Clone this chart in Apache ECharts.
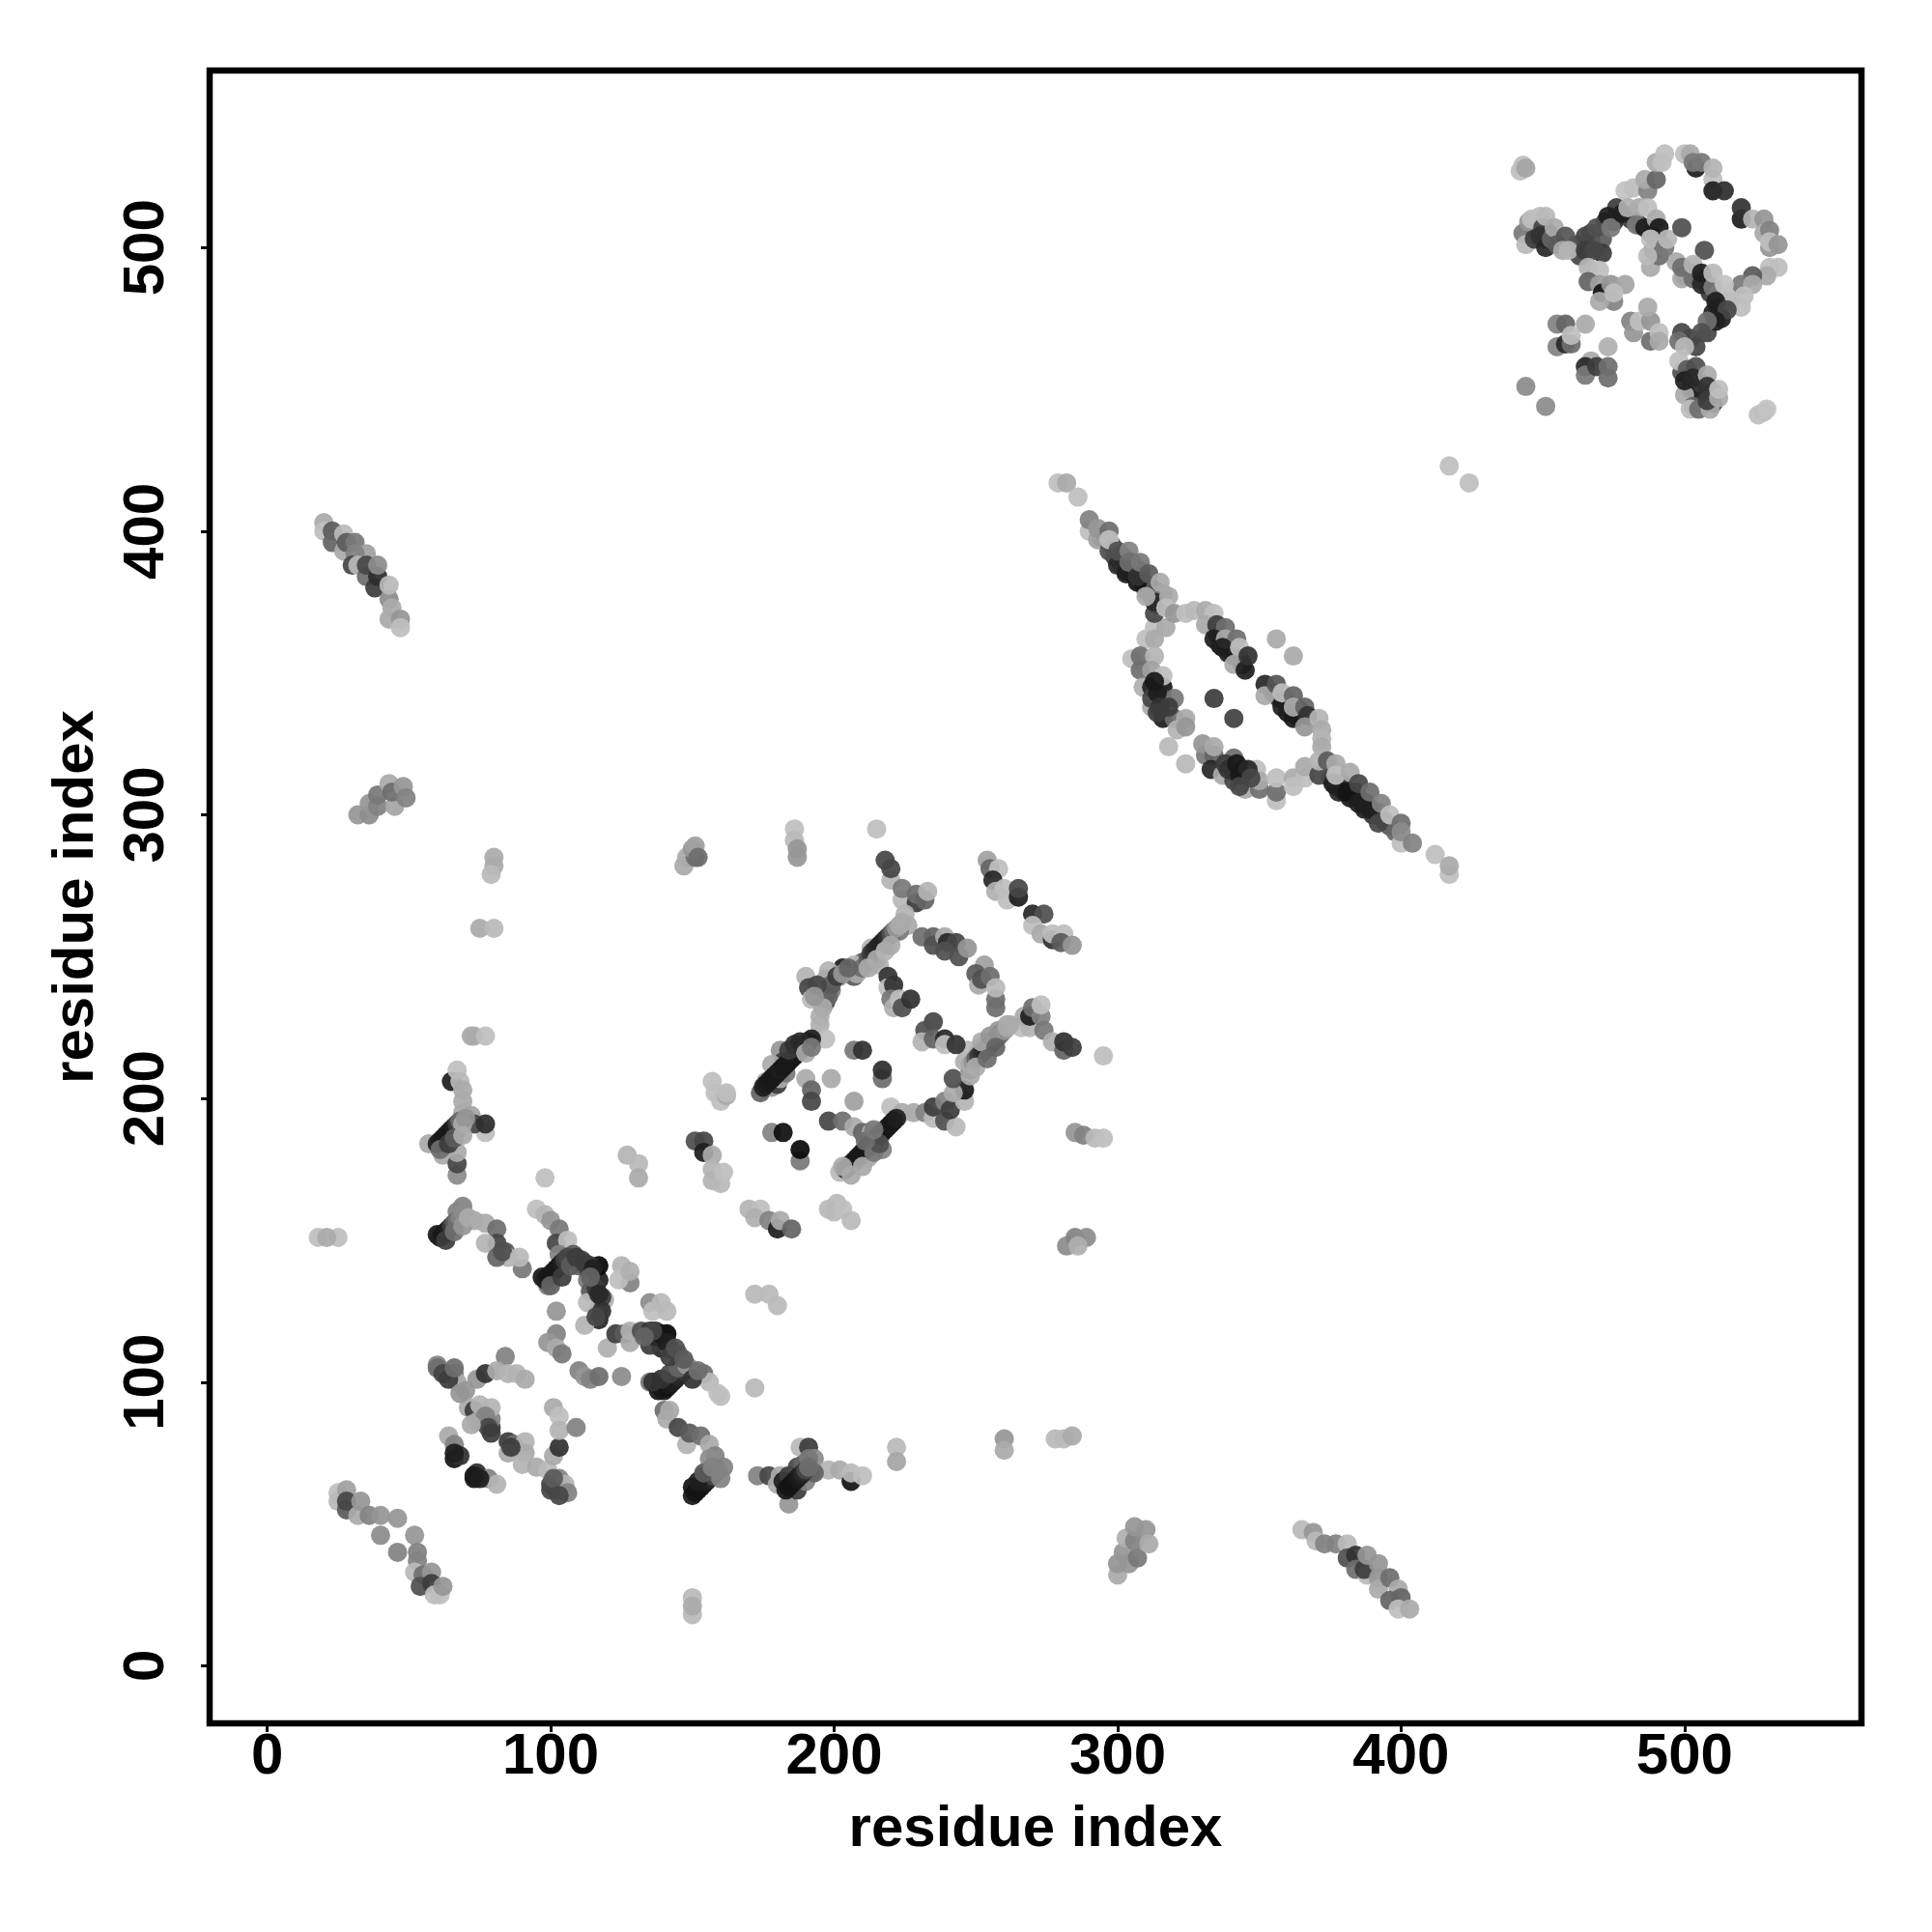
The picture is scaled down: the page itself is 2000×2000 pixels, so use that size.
<!DOCTYPE html>
<html><head><meta charset="utf-8">
<script src="https://cdn.jsdelivr.net/npm/echarts@6/dist/echarts.min.js"></script>
<style>html,body{margin:0;padding:0;background:#fff}#c{width:2000px;height:2000px}</style>
</head><body><div id="c"></div>
<script>
// each point: [residue i, residue j, shade level]
const tickValues = [0,100,200,300,400,500];
const axisTitle = "residue index";

const denseStrands = [
[176,206,170],[178,204,150],[180,205,60],[181,207,170],[183,209,120],[175,204,30],[176,205,30],[177,206,25],[178,207,25],[179,208,25],[180,209,25],[181,210,30],[182,211,25],[183,212,25],[184,213,25],[185,214,25],[186,215,25],[187,216,25],[188,217,25],[189,218,25],[190,219,25],[191,220,25],[192,221,30],[184,217,60],[186,219,50],[188,220,40],[190,216,170],[192,218,120],
[204,175,30],[205,176,30],[206,177,30],[207,178,30],[208,179,25],[209,180,25],[210,181,25],[211,182,25],[212,183,25],[213,184,25],[214,185,25],[215,186,25],[216,187,25],[217,188,25],[218,189,25],[219,190,25],[220,191,25],[221,192,25],[222,193,30],[206,173,170],[210,176,170],[203,176,170],[214,181,120],[216,184,80],[211,185,110],[214,189,120],
[248,212,170],[249,213,150],[250,214,100],[251,215,60],[252,216,50],[253,217,40],[254,218,35],[255,219,35],[256,220,40],[257,221,60],[258,222,80],[259,223,110],[260,224,150],[261,225,170],[262,226,170],[252,220,170],[255,222,150],[250,211,170],[254,214,110],[257,218,100],
[208,244,170],[210,246,110],[212,249,90],[213,251,60],[214,252,50],[215,253,40],[216,254,35],[217,255,35],[218,256,35],[219,257,50],[220,258,80],[221,259,110],[222,260,150],[223,261,170],[224,262,170],[212,246,170],[215,249,170],[218,252,180],[220,254,170],
[198,236,100],[196,232,170],[199,240,90],[201,243,60],[203,244,150],[205,246,100],[194,240,70],[193,236,150],
[60,184,30],[61,185,30],[62,186,25],[63,187,25],[64,188,25],[65,189,25],[66,190,30],[67,191,60],[68,192,110],[61,182,110],[64,184,60],[69,191,170],[70,193,150],[66,186,90],[69,187,170],
[60,152,25],[61,151,30],[62,152,25],[63,153,25],[64,154,30],[65,155,60],[66,156,90],[67,157,110],[68,158,130],[69,160,140],[63,150,60],[66,153,110],[69,155,150],[71,158,170],
[97,137,25],[98,136,30],[99,137,25],[100,138,25],[101,139,25],[102,140,25],[103,141,25],[104,142,30],[105,143,60],[106,144,70],[100,134,100],[104,137,60],[107,141,90],[109,144,60],[112,142,60],[114,141,60],[115,140,30],[116,133,60],[118,130,60],[118,125,50],[116,123,70],[117,131,40],[114,137,100],
[138,97,20],[139,98,20],[140,97,25],[141,98,20],[142,99,25],[143,100,30],[144,101,30],[145,102,40],[146,103,40],[147,104,60],[136,100,50],[139,101,50],[142,103,70],[145,105,100],[148,106,150],[150,101,50],[152,104,110],
[135,113,60],[137,116,40],[139,117,20],[141,114,30],[142,109,60],[144,112,80],[147,108,90],[136,118,70],[133,116,100],
[150,60,25],[151,61,20],[152,62,20],[153,63,20],[154,64,25],[155,65,30],[156,66,40],[157,67,70],[158,68,90],[159,69,130],[150,63,20],[152,65,30],[154,68,90],[157,70,130],[160,66,130],
[182,65,30],[184,67,60],[187,70,70],[189,71,100],[191,73,120],[187,62,60],[190,65,130],[193,68,100],[183,62,25],[184,63,20],[185,64,20],[186,65,20],[187,66,25],[188,67,30],[189,68,40],[190,69,70],[191,70,110],
[299,391,60],[301,389,80],[302,391,40],[303,386,40],[305,385,30],[305,389,40],[308,386,40],[309,382,25],[311,381,30],[313,379,30],[310,379,90],[312,377,60],[314,374,70],[316,378,130],[298,395,80],[294,398,100],
[377,310,30],[379,311,40],[378,308,40],[380,308,30],[382,306,25],[384,308,30],[386,305,30],[387,302,30],[388,304,50],[390,300,50],[392,301,70],[394,298,60],[396,296,90],[398,294,100],[375,313,90],
[335,364,30],[336,360,25],[339,357,30],[341,356,25],[343,355,40],[344,353,30],[355,343,30],[357,341,40],[359,340,25],[360,336,25],[363,335,40],[364,337,60],
[314,343,30],[315,338,50],[313,347,25],[318,338,60],[314,336,60],
[338,318,60],[339,316,50],[342,318,25],[343,314,25],[346,316,40],[347,313,70],[343,310,70],
[462,501,70],[463,497,70],[467,502,60],[467,505,70],[471,503,90],[471,498,60],[472,509,60],[475,509,40],[481,510,60],[484,508,80],[488,505,60],[489,499,60],[491,502,60],[488,493,170],
[497,495,170],[500,490,90],[503,491,100],[505,489,40],[507,488,30],[509,484,60],[512,484,160],[512,479,40],[510,477,30],[513,475,30],[516,481,170],[516,484,190],[508,470,70],[502,468,70],
[502,450,60],[504,449,30],[506,452,60],[506,446,40],[510,445,60],[510,449,40],[500,448,170],[499,456,80],
[447,507,60],[449,507,40],[451,506,40],[452,505,60],[454,502,70],[451,503,25],
[60,105,110],[62,103,70],[64,101,60],[66,105,110],[68,96,150],[77,88,130],[78,84,70],[72,85,170],[79,82,60],[66,75,30],[73,67,25],[75,66,30],[86,77,60],[100,62,70],[101,66,90],[103,60,70]
];

const topRight = [
[442,527,190],[443,529,190],[444,528,165],[444,451,140],[451,444,140],[526,441,190],[528,442,190],[529,443,195],
[443,505,120],[444,501,185],[445,509,150],[447,503,60],[446,510,190],[449,511,190],[450,507,70],[451,511,185],[449,504,50],[451,500,40],[453,503,100],[454,507,170],[455,501,90],[458,504,85],[457,499,170],[459,499,180],
[465,504,70],[469,507,80],[465,499,60],[468,499,70],[466,493,180],[470,492,190],[466,488,100],[470,487,160],[471,484,20],[474,487,150],[475,481,130],[470,481,170],[479,487,165],[475,484,190],
[476,514,60],[473,511,30],[474,507,120],[478,512,30],[479,520,195],[482,521,190],[487,520,130],[486,524,170],[490,524,100],[490,530,170],[492,530,190],[493,533,190],
[480,514,175],[484,514,170],[487,514,190],[483,508,120],[486,507,30],[490,510,170],[491,507,25],[488,503,190],[491,497,110],[487,497,185],[493,500,120],[494,503,185],[499,507,80],[507,499,80],
[500,533,190],[502,533,170],[504,528,30],[503,530,120],[506,530,120],[510,524,190],[510,528,180],[510,520,30],[514,520,45],[520,510,30],[520,514,50],[524,510,180],[528,510,150],[528,505,170],[530,506,130],[530,500,150],[530,502,190],[533,501,150],
[533,493,190],[530,493,190],[529,490,170],[524,490,90],[520,487,120],[524,487,170],[521,483,190],[520,479,190],
[499,489,170],[499,493,110],[503,489,110],[503,494,180],[506,487,40],[506,491,30],[510,486,120],[510,491,185],[514,487,195],[511,481,30],[515,478,70],[511,474,30],[508,474,110],[506,470,80],[499,470,70],[498,467,110],[504,465,70],[500,465,185],[498,460,190],[501,457,90],
[504,458,80],[500,453,30],[503,454,40],[508,455,170],[508,451,50],[503,444,100],[502,443,190],[505,443,110],[509,443,170],[508,446,60],[512,447,170],[512,450,190],
[455,473,130],[458,473,100],[465,473,170],[455,465,130],[458,466,40],[460,466,110],[460,469,190],[473,465,175],[467,460,170],[465,458,40],[465,455,120],[469,458,60],[473,454,110],[473,458,110],
[481,474,130],[482,470,150],[484,474,190],[488,474,150],[487,479,170],[488,467,110],[491,470,190],[491,467,170]
];

const outerDiagonal = [
[279,417,190],[282,417,170],[286,412,190],[417,423,190],[424,417,190],
[290,400,190],[290,404,130],[293,397,160],[293,401,150],[297,393,80],[297,400,110],[297,397,190],[300,388,40],[300,393,80],[304,393,130],[303,385,30],[304,389,110],[307,382,20],[307,384,50],[308,389,120],[311,385,90],[315,382,170],
[313,371,70],[313,375,40],[310,377,170],[318,377,170],[317,373,190],[320,371,150],[324,371,190],[327,372,185],[331,372,170],[334,371,190],[331,367,170],[335,367,60],[338,366,110],[334,362,30],[338,362,170],[342,362,110],[337,359,30],[343,359,190],[341,353,170],[345,351,30],[346,356,50],[356,362,170],[362,356,170],
[334,341,60],[341,334,65],
[352,346,40],[352,342,170],[356,346,85],[358,338,30],[358,343,190],[362,334,25],[362,342,100],[362,338,170],[366,338,100],[367,335,50],[366,331,150],[371,334,180],[372,330,170],[372,327,180],[372,324,170],
[371,314,70],[371,319,180],[374,319,90],[377,318,170],[376,311,30],[377,314,190],[381,308,20],[382,315,170],[385,311,70],[385,304,30],[389,302,30],[389,308,110],[392,297,70],[393,304,130],[396,300,190],[400,290,190],[400,297,110],[400,294,140],[404,290,130],[412,286,190],[417,279,190],[417,282,170]
];

const loopRing = [
[313,366,190],[317,366,170],[310,362,190],[313,362,170],[305,355,190],[308,356,110],[313,356,180],[308,351,110],[312,351,160],[309,345,175],[312,345,35],[316,345,25],[316,349,190],[312,338,170],[312,341,70],[316,341,60],[320,341,120],[316,334,30],[320,334,110],[324,334,170],[321,330,180],[324,331,150],[318,324,185],[324,318,185],
[331,321,120],[330,325,150],[334,321,100],[334,324,170],[333,316,40],[337,314,170],[341,315,80],[341,320,110],[341,312,70],[344,312,30],[344,316,25],[349,316,190],[345,309,170],[350,309,110],[350,312,170],[356,305,190],[356,308,110],[356,313,190],[362,313,170],[362,310,190],[366,313,190],[366,317,170]
];

const centerStrands = [
[186,295,190],[186,291,185],[187,288,150],[187,285,150],[215,295,190],[151,289,160],[152,285,110],
[220,277,180],[218,284,70],[220,281,70],[224,270,185],[224,274,120],[229,269,60],[229,272,110],[232,270,100],[233,273,180],[225,265,180],
[226,261,170],[223,259,120],[216,253,170],[213,253,180],[214,250,170],[210,248,100],[216,247,180],[207,247,185],[203,246,30],[207,243,90],[202,243,170],[198,245,180],[199,238,130],[197,242,170],[197,234,70],[190,243,180],[191,239,70],[192,235,185],[195,229,175],[195,226,175],
[181,217,150],[182,213,60],[178,212,170],[178,205,190],[174,202,100],[197,221,190],
[190,207,170],[192,203,100],[192,199,70],[207,217,120],[210,217,50],[217,207,110],[217,210,45],[199,207,170],[207,199,160],
[157,206,190],[158,202,190],[160,199,190],[162,201,170],[162,202,190],
[178,188,130],[182,188,15],[188,178,120],[188,182,10],
[151,185,80],[154,185,70],[154,181,30],[157,180,170],[157,175,180],[157,171,180],[160,170,185],[161,174,190],
[198,192,70],[203,192,110],[207,190,170],[210,188,100],[220,197,190],[224,195,170],[228,195,170],
[213,188,170],[212,182,80],[217,182,130],[208,178,110],[212,179,170],[202,174,185],
[232,195,130],[235,193,185],[235,197,60],[239,199,130],[239,192,80],[243,190,185],[241,196,60],[246,199,180],[246,203,25],[242,202,170],[242,207,80],[248,210,70],[248,208,170],
[246,213,175],[247,217,185],[251,216,170],[252,218,175],[258,224,150],[261,226,170],[266,225,190],[269,225,180],
[267,229,170],[269,229,30],[270,232,110],[273,229,130],[273,233,190],[274,224,120],[277,220,175],[281,217,100],[281,220,50],[284,218,60],[295,215,190],
[219,243,50],[219,239,190],[221,240,50],[220,235,120],[221,232,175],[223,235,190],[224,232,80],[227,235,50],
[235,227,70],[232,224,80],[231,220,180],[235,221,100],[239,221,40],[239,219,190],[243,219,50],
[231,257,110],[235,257,100],[235,254,80],[239,257,170],[240,255,40],[243,255,70],[239,252,80],[244,250,80],[247,253,150],
[253,247,160],[250,244,90],[251,240,170],[252,242,80],[255,243,110],[257,235,110],[257,232,110],[257,239,185],
[254,284,160],[255,281,100],[258,281,190],[256,277,40],[257,273,175],[260,274,190],[261,270,190],[265,271,30],[265,274,70],
[270,265,40],[274,265,80],[270,261,190],[273,258,170],[277,256,50],[277,258,190],[281,258,190],[280,255,90],[284,254,150],
[285,188,150],[288,187,130],[292,186,185],[295,186,190],
[170,161,180],[174,161,190],[172,158,175],[177,157,130],[180,154,30],[181,157,170],[185,154,100],
[198,161,185],[201,163,185],[200,160,185],[203,161,190],[206,157,185],
[282,148,140],[285,151,130],[289,151,140],[286,148,175]
];

const leftUpper = [
[72,222,170],[73,222,170],[77,222,190],[65,206,30],[67,210,190],[68,206,185],[69,203,170],[69,199,170],[69,195,170],
[72,194,165],[77,188,190],[73,191,70],[77,191,45],[57,184,170],[67,189,90],[62,180,170],[67,173,140],[67,177,70],[67,181,170],
[67,160,130],[69,162,130],[73,157,170],[77,156,170],[81,154,110],[81,149,70],[77,149,180],[84,146,90],[85,144,180],[81,144,100],[83,146,80],[90,140,120],[89,144,185],
[18,151,190],[25,151,190],[21,151,170],[98,172,190],
[75,260,170],[80,260,185],[80,285,170],[80,282,170],[79,279,185]
];

const leftMiddle = [
[95,161,190],[98,159,180],[100,157,150],[103,154,120],[102,149,70],[106,150,190],
[99,134,130],[103,145,130],[108,145,90],[110,141,100],[111,143,70],[113,136,120],[113,140,80],[114,132,90],[117,126,120],[117,122,40],[113,128,185],[117,136,30],[117,141,5],[119,129,175],
[125,141,180],[128,135,130],[124,136,190],[128,139,175],
[102,125,150],[112,120,180],[102,117,130],[99,114,150],[102,112,170],[104,110,120],[120,112,175],
[110,104,130],[112,102,150],[114,101,130],[117,102,110],[125,102,140],[135,100,120],
[135,128,140],[136,125,190],[139,128,185],[141,125,185],
[123,117,60],[126,117,90],[128,114,170],[128,118,175],[132,118,80],[135,118,50],[137,118,40],[139,112,40],[141,117,5],[142,112,90],[145,110,90],[145,106,150],
[149,105,175],[154,103,110],[156,100,185],[159,96,190],[160,95,190],[172,98,185],
[140,90,110],[142,90,170],[141,87,170],[145,84,70],[148,78,180],[149,82,90],[153,81,110],[156,78,170],[158,74,130],[154,67,50],[156,73,140],
[158,68,130],[161,70,130],
[60,106,130],[63,103,110],[66,103,130],[67,100,170],[70,97,150],[71,91,170],[74,101,150],[77,103,50],[84,109,130],[81,104,170],[85,103,180],[88,103,180],[91,101,170],
[73,90,60],[74,86,170],[79,84,60],[79,87,130],[75,92,180],[79,91,180],
[64,81,170],[66,78,130],[66,73,20],[68,74,50],[73,66,20],[74,68,45],[78,66,130],[81,64,180],
[85,79,60],[87,78,110],[91,79,180],[85,75,170],[91,75,170],[90,71,180],[95,70,170],[99,69,185],
[100,64,70],[101,74,170],[103,77,50],[101,91,170],[103,88,190],[103,83,180],[109,84,130],[103,66,130],[102,62,70],[105,64,180],[106,61,130],
[127,180,180],[131,177,185],[131,172,170],[172,131,185],[177,131,185],[180,127,185]
];

const lowerRight = [
[173,67,130],[177,67,70],[181,67,170],[180,64,170],[184,57,150],[188,77,185],[191,77,60],[192,68,100],[193,73,140],[198,69,180],[202,69,170],[206,65,20],[206,68,185],[210,67,190],[222,77,185],[222,72,165],
[278,80,185],[281,80,185],[284,81,170],[260,80,150],[260,76,170],[150,24,185],[150,18,185],[150,21,170],[147,282,170],[148,285,170],[151,285,110],[150,288,150]
];

const lowerLeft = [
[25,61,190],[25,58,185],[28,62,160],[28,55,90],[28,58,70],[32,53,170],[33,58,150],[36,53,130],[40,53,150],[46,52,150],[40,46,140],[46,40,130],[52,46,150],[53,40,130],[53,37,130],[52,33,185],[55,32,110],[58,33,150],[54,28,80],[58,29,60],[59,25,190],[61,25,190],[62,28,150],
[300,32,170],[300,36,150],[304,36,150],[302,40,150],[307,38,120],[303,45,175],[306,44,130],[306,49,150],[310,48,150],[311,43,170],
[365,48,185],[369,47,150],[370,44,185],[373,43,130],[377,43,130],[381,43,185],[381,38,80],[384,39,50],[384,34,110],[388,32,185],[387,34,60],[388,39,150],[392,36,150],[392,31,150],[392,27,170],[396,31,110],[399,27,170],[396,23,100],[400,24,100],[399,20,190],[403,20,170]
];

const upperLeft = [
[20,403,170],[20,400,190],[23,400,90],[23,396,100],[27,399,185],[27,393,170],[28,396,90],[31,396,120],[35,392,160],[31,392,130],[30,388,70],[32,388,185],[35,384,110],[35,388,70],[38,380,60],[39,384,45],[39,388,140],[43,376,140],[43,381,185],[44,373,170],[43,369,170],[47,369,150],[47,366,190],
[32,300,150],[36,300,140],[36,304,150],[39,303,130],[39,307,120],[43,311,170],[45,303,165],[44,308,110],[48,310,150],[49,306,130]
];

const clusters = [upperLeft, lowerLeft, lowerRight, leftUpper, leftMiddle, centerStrands, loopRing, denseStrands, outerDiagonal, topRight];

const font = {fontFamily:'"Liberation Sans"', fontWeight:'bold', fontSize:60, color:'#000'};
const chart = echarts.init(document.getElementById('c'), null, {renderer:'canvas'});
chart.setOption({
  animation:false,
  backgroundColor:'#fff',
  grid:{left:217,right:73,top:73,bottom:216,show:true,borderColor:'#000',borderWidth:6.5,backgroundColor:'transparent'},
  visualMap:{show:false,dimension:2,min:0,max:255,inRange:{color:['#000000','#ffffff']}},
  xAxis:{type:'value',min:-20.3,max:562.4,name:axisTitle,nameLocation:'middle',nameGap:80,nameMoveOverlap:false,nameTextStyle:font,
    axisLine:{show:false,onZero:false},splitLine:{show:false},
    axisTick:{show:true,length:9,customValues:tickValues,lineStyle:{color:'#000',width:3}},
    axisLabel:{...font,margin:5,hideOverlap:false,customValues:tickValues}},
  yAxis:{type:'value',min:-20.3,max:562.4,name:axisTitle,nameLocation:'middle',nameGap:108,nameMoveOverlap:false,nameRotate:90,nameTextStyle:font,
    axisLine:{show:false,onZero:false},splitLine:{show:false},
    axisTick:{show:true,length:9,customValues:tickValues,lineStyle:{color:'#000',width:3}},
    axisLabel:{...font,margin:65,rotate:90,hideOverlap:false,customValues:tickValues,verticalAlign:'middle',align:'center'}},
  series:clusters.map(d=>({type:'scatter',data:d,symbolSize:20,encode:{x:0,y:1},
    itemStyle:{opacity:0.93},emphasis:{disabled:true},silent:true}))
});
</script></body></html>
